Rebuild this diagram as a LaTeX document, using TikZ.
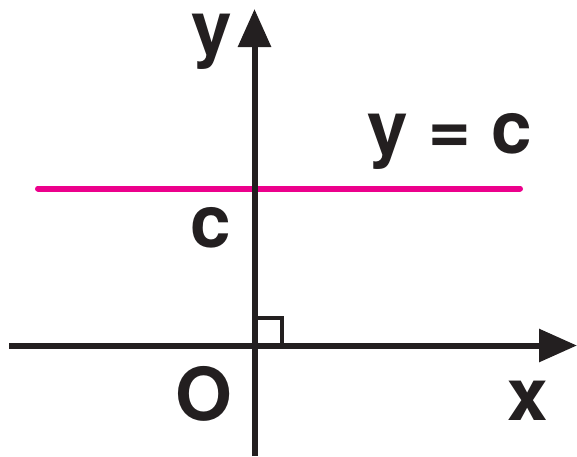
\documentclass[tikz,border=0pt]{standalone}
\usepackage{fontspec}
\setmainfont{TeX Gyre Heros}
\usetikzlibrary{arrows.meta}
\definecolor{ink}{HTML}{231F20}
\definecolor{mag}{HTML}{EC008C}
\tikzset{
  axis/.style={draw=ink, line width=6pt, -{Triangle[length=38pt,width=32pt]}},
  lbl/.style={text=ink, font=\fontsize{73}{80}\selectfont\bfseries, anchor=base, inner sep=0pt},
  cline/.style={draw=mag, line width=6pt, line cap=round}
}
\begin{document}
\begin{tikzpicture}[x=1pt,y=-1pt]
\useasboundingbox (0,0) rectangle (577,456);
\coordinate (xl) at (9,345.5);
\coordinate (xr) at (577,345.5);
\coordinate (yb) at (254.5,456);
\coordinate (yt) at (254.5,9);
\coordinate (cl) at (38,188.5);
\coordinate (cr) at (520,188.5);
\draw[cline] (cl) -- (cr);
\draw[axis] (xl) -- (xr);
\draw[axis] (yb) -- (yt);
\draw[ink, line width=3.5pt] (256,345.5) |- (282,318) -- (282,345.5);
\node[lbl] (ylab) at (212,53) {y};
\node[lbl] (xlab) at (528,420) {x};
\node[lbl] (olab) at (204,420) {O};
\node[lbl] (clab) at (211,247) {c};
\node[lbl] (eqlab) at (449.5,153) {y = c};
\end{tikzpicture}
\end{document}
